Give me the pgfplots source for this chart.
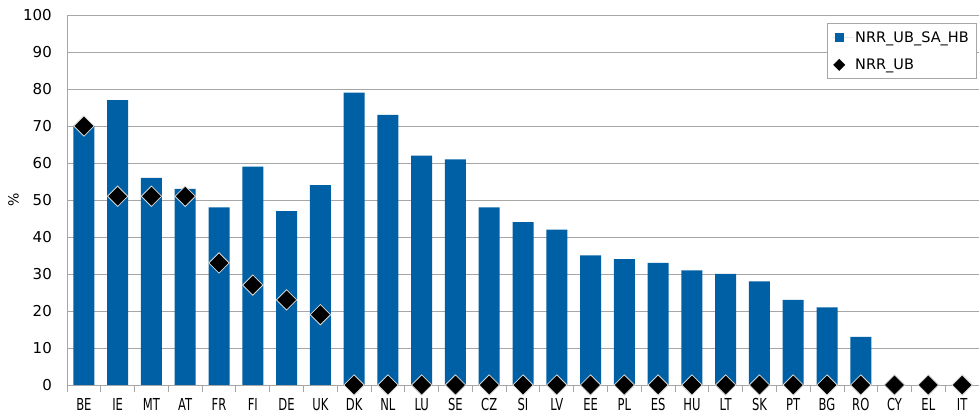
\documentclass[border=0pt]{standalone}
\usepackage{fontspec}
\setmainfont{DejaVu Sans}
\newfontfamily\condfont[FakeStretch=0.7]{DejaVu Sans}
\usepackage{pgfplots}
\pgfplotsset{compat=1.18}
\definecolor{nrrblue}{RGB}{0,96,166}
\definecolor{gridgray}{RGB}{166,166,166}
\begin{document}
\begin{tikzpicture}
\useasboundingbox (-67pt,-32pt) rectangle (912pt,385pt);
\begin{axis}[
  at={(0pt,0pt)}, anchor=south west,
  scale only axis, width=912pt, height=370pt,
  xmin=-0.5, xmax=26.5, ymin=0, ymax=100,
  clip=false,
  ytick={0,10,...,100},
  xtick={0,...,26},
  xticklabels={BE,IE,MT,AT,FR,FI,DE,UK,DK,NL,LU,SE,CZ,SI,LV,EE,PL,ES,HU,LT,SK,PT,BG,RO,CY,EL,IT},
  axis x line*=bottom, axis y line*=left,
  axis line style={gridgray, line width=0.8pt, -},
  ymajorgrids, grid style={gridgray, line width=0.8pt},
  major tick length=0pt,
  extra x ticks={-0.5,0.5,...,26.5}, extra x tick labels={},
  extra x tick style={major tick length=7pt, tick align=outside, grid=none, tick style={gridgray, line width=0.8pt}},
  /pgf/number format/assume math mode=true,
  yticklabel style={font=\fontsize{15}{15}\selectfont, inner sep=0pt},
  yticklabel shift=15pt,
  xticklabel style={font=\condfont\fontsize{16.5}{16.5}\selectfont, inner sep=0pt, anchor=north},
  xticklabel shift=13pt,
  ylabel={\%},
  ylabel style={at={(axis description cs:-0.0587,0.5)}, anchor=center, font=\fontsize{14}{14}\selectfont},
  legend style={at={(rel axis cs:0.998,0.978)}, anchor=north east, draw=gridgray, line width=0.8pt,
    font=\fontsize{14.5}{14.5}\selectfont, row sep=11pt, inner xsep=6pt, inner ysep=6pt, cells={anchor=west}},
]
\addplot[ybar, bar width=21pt, bar shift=0pt, fill=nrrblue, draw=none,
  legend image code/.code={\path[draw=none] (0pt,0pt) -- (20pt,0pt); \fill[nrrblue] (1.5pt,-4.5pt) rectangle (10.5pt,4.5pt);}]
coordinates {(0,70) (1,77) (2,56) (3,53) (4,48) (5,59) (6,47) (7,54) (8,79) (9,73) (10,62) (11,61) (12,48) (13,44) (14,42) (15,35) (16,34) (17,33) (18,31) (19,30) (20,28) (21,23) (22,21) (23,13) (24,0) (25,0) (26,0)};
\addlegendentry{NRR\_UB\_SA\_HB}
\addplot[only marks, mark=square*, mark size=7.2pt,
  mark options={rotate=45, fill=black, draw=white!85!black, line width=0.8pt},
  legend image code/.code={\path[draw=none] (0pt,0pt) -- (20pt,0pt); \fill[black, draw=none] (6pt,-6pt) -- (12pt,0pt) -- (6pt,6pt) -- (0pt,0pt) -- cycle;}]
coordinates {(0,70) (1,51) (2,51) (3,51) (4,33) (5,27) (6,23) (7,19) (8,0) (9,0) (10,0) (11,0) (12,0) (13,0) (14,0) (15,0) (16,0) (17,0) (18,0) (19,0) (20,0) (21,0) (22,0) (23,0) (24,0) (25,0) (26,0)};
\addlegendentry{NRR\_UB}
\end{axis}
\end{tikzpicture}
\end{document}
